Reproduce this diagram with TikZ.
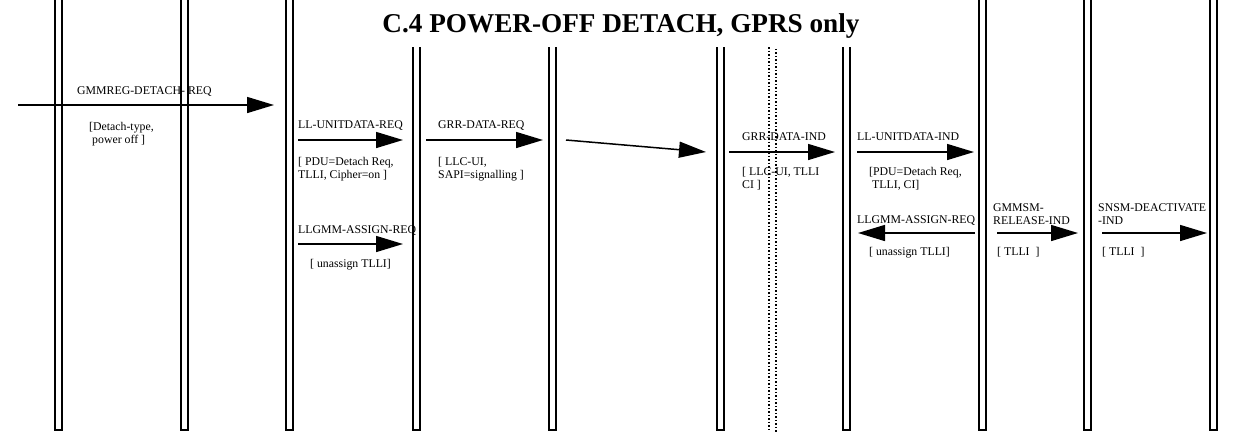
\documentclass[tikz,border=0pt]{standalone}
\usepackage{fontspec}
\setmainfont{Liberation Serif}
\usetikzlibrary{arrows.meta}
\tikzset{
  bar/.style={line width=1.3pt},
  sig/.style={line width=1.5pt,-{Triangle[length=27pt,width=16pt]}},
  lbl/.style={anchor=base west,inner sep=0pt,align=left,font=\fontsize{11.8}{13}\selectfont},
}
\begin{document}
\begin{tikzpicture}[x=1pt,y=-1pt]
  \useasboundingbox (0,0) rectangle (1245,432);
  % TITLE
  \node[anchor=base,inner sep=0pt,font=\fontsize{27.2}{30}\selectfont\bfseries] (title) at (621,32)
    {C.4 POWER-OFF DETACH, GPRS only};

  % BARS
  \draw[bar] (55,0) -- (55,430) -- (62,430) -- (62,0);
  \draw[bar] (181,0) -- (181,430) -- (188,430) -- (188,0);
  \draw[bar] (286,0) -- (286,430) -- (293,430) -- (293,0);
  \draw[bar] (413,47) -- (413,430) -- (420,430) -- (420,47);
  \draw[bar] (549,47) -- (549,430) -- (556,430) -- (556,47);
  \draw[bar] (717,47) -- (717,430) -- (724,430) -- (724,47);
  \draw[bar] (843,47) -- (843,430) -- (850,430) -- (850,47);
  \draw[bar] (979,0) -- (979,430) -- (986,430) -- (986,0);
  \draw[bar] (1084,0) -- (1084,430) -- (1091,430) -- (1091,0);
  \draw[bar] (1210,0) -- (1210,430) -- (1217,430) -- (1217,0);
  % radio interface (dotted)
  \draw[line width=1.3pt,dash pattern=on 1.5pt off 2pt] (769,47) -- (769,432);
  \draw[line width=1.3pt,dash pattern=on 1.5pt off 2pt,dash phase=1.75pt] (776,47) -- (776,432);

  % ARROWS
  % GMMREG-DETACH-REQ
  \coordinate (detS) at (18,105);
  \coordinate (detE) at (274,105);
  \draw[sig] (detS) -- (detE);
  \node[lbl] (detN) at (77,94) {GMMREG-DETACH- REQ};
  \node[lbl] (detP) at (89,143) {[Detach-type,\\\hspace*{3pt}power off ]};

  % LL-UNITDATA-REQ
  \coordinate (udrS) at (298,140);
  \coordinate (udrE) at (403,140);
  \draw[sig] (udrS) -- (udrE);
  \node[lbl] (udrN) at (298,128) {LL-UNITDATA-REQ};
  \node[lbl] (udrP) at (298,178) {[ PDU=Detach Req,\\TLLI, Cipher=on ]};

  % GRR-DATA-REQ
  \coordinate (grrS) at (426,140);
  \coordinate (grrE) at (543,140);
  \draw[sig] (grrS) -- (grrE);
  \node[lbl] (grrN) at (438,128) {GRR-DATA-REQ};
  \node[lbl] (grrP) at (438,178) {[ LLC-UI,\\SAPI=signalling ]};

  % air
  \coordinate (airS) at (566,140);
  \coordinate (airE) at (706,152);
  \draw[sig] (airS) -- (airE);

  % GRR-DATA-IND
  \coordinate (griS) at (729,152);
  \coordinate (griE) at (835,152);
  \draw[sig] (griS) -- (griE);
  \node[lbl] (griN) at (742,140) {GRR-DATA-IND};
  \node[lbl] (griP) at (742,188) {[ LLC-UI, TLLI\\CI ]};

  % LL-UNITDATA-IND
  \coordinate (udiS) at (857,152);
  \coordinate (udiE) at (974,152);
  \draw[sig] (udiS) -- (udiE);
  \node[lbl] (udiN) at (857,140) {LL-UNITDATA-IND};
  \node[lbl] (udiP) at (869,188) {[PDU=Detach Req,\\\hspace*{3pt}TLLI, CI]};

  % LLGMM-ASSIGN-REQ (MS)
  \coordinate (asmS) at (298,244);
  \coordinate (asmE) at (403,244);
  \draw[sig] (asmS) -- (asmE);
  \node[lbl] (asmN) at (298,233) {LLGMM-ASSIGN-REQ};
  \node[lbl] (asmP) at (310,267) {[ unassign TLLI]};

  % LLGMM-ASSIGN-REQ (SGSN)
  \coordinate (asnS) at (975,233);
  \coordinate (asnE) at (858,233);
  \draw[sig] (asnS) -- (asnE);
  \node[lbl] (asnN) at (857,223) {LLGMM-ASSIGN-REQ};
  \node[lbl] (asnP) at (869,255) {[ unassign TLLI]};

  % GMMSM-RELEASE-IND
  \coordinate (relS) at (997,233);
  \coordinate (relE) at (1078,233);
  \draw[sig] (relS) -- (relE);
  \node[lbl] (relN) at (993,224) {GMMSM-\\RELEASE-IND};
  \node[lbl] (relP) at (997,255) {[ TLLI~~]};

  % SNSM-DEACTIVATE-IND
  \coordinate (deaS) at (1102,233);
  \coordinate (deaE) at (1207,233);
  \draw[sig] (deaS) -- (deaE);
  \node[lbl] (deaN) at (1098,224) {SNSM-DEACTIVATE\\-IND};
  \node[lbl] (deaP) at (1102,255) {[ TLLI~~]};
\end{tikzpicture}
\end{document}
